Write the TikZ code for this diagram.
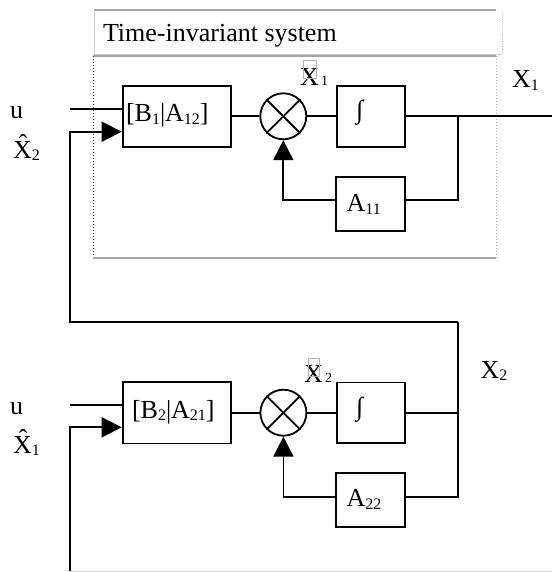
\documentclass[tikz,border=0pt]{standalone}
\usepackage{fontspec}
\setmainfont{Liberation Serif}
\usetikzlibrary{arrows.meta}
\newcommand{\mainsize}{\fontsize{26}{30}\selectfont}
\newcommand{\subtxt}[1]{\raisebox{-2.5pt}{\fontsize{16}{18}\selectfont #1}}
\newcommand{\dotsub}[1]{{\fontsize{14}{16}\selectfont\,#1}}
\begin{document}
\begin{tikzpicture}[x=1pt,y=-1pt, font=\mainsize,
  blk/.style={draw, line width=1.8pt, inner sep=0pt},
  wire/.style={line width=1.8pt},
  txt/.style={anchor=base west, inner sep=0pt, outer sep=0pt},
  tip/.style={-{Triangle[length=20pt,width=20pt]}}]
\useasboundingbox (0,0) rectangle (552,572);

% frames
\draw[gray!70, line width=1.2pt] (94,10) -- (496,10);
\draw[gray!40, line width=0.8pt] (94,10) -- (94,54) -- (502,54);
\draw[gray!40, line width=0.8pt, densely dotted] (502,12) -- (502,54);
\draw[gray!70, line width=1.2pt] (93,56) -- (496,56);
\draw[black!80, line width=1pt, dotted] (93,56) -- (93,258);
\draw[gray!60, line width=1pt, dotted] (496,56) -- (496,258);
\draw[gray!70, line width=1.2pt] (93,258) -- (496,258);
\node[txt] (tt) at (103,42) {Time-invariant system};

% top row
\node[blk, minimum width=108pt, minimum height=60.7pt] (B1) at (176.6,116.3) {};
\node[blk, circle, minimum size=46pt] (S1) at (283.3,116.3) {};
\node[blk, minimum width=68.6pt, minimum height=60.7pt] (I1) at (371,116.3) {};
\node[blk, minimum width=69.3pt, minimum height=53.4pt] (A11) at (370.7,204) {};
\draw[wire] (S1.north west) -- (S1.south east);
\draw[wire] (S1.north east) -- (S1.south west);

\coordinate (o1) at (552,116.3);
\coordinate (br1) at (458,116.3);
\coordinate (fb1) at (458,200);
\coordinate (u1) at (70,108.7);
\draw[wire] (B1.east) -- (S1.west);
\draw[wire] (S1.east) -- (I1.west);
\draw[wire] (I1.east) -- (o1);
\draw[wire] (br1) -- (fb1) -- (fb1 -| A11.east);
\draw[wire,tip] (fb1 -| A11.west) -| (S1.south);
\draw[wire] (u1) -- (u1 -| B1.west);

% bottom row
\node[blk, minimum width=108pt, minimum height=61.6pt] (B2) at (176.6,412.7) {};
\node[blk, circle, minimum size=46pt] (S2) at (283.4,412.7) {};
\node[blk, minimum width=68.6pt, minimum height=60.6pt] (I2) at (371,412.7) {};
\node[blk, minimum width=69pt, minimum height=53.4pt] (A22) at (370.5,500) {};
\draw[wire] (S2.north west) -- (S2.south east);
\draw[wire] (S2.north east) -- (S2.south west);

\coordinate (br2) at (458,412.7);
\coordinate (fb2) at (458,496.7);
\coordinate (u2) at (70,405.3);
\draw[wire] (B2.east) -- (S2.west);
\draw[wire] (S2.east) -- (I2.west);
\draw[wire] (I2.east) -- (br2);
\draw[wire,tip] (fb2 -| A22.west) -| (S2.south);
\draw[wire] (u2) -- (u2 -| B2.west);

% cross feedback X2 -> top input
\coordinate (x2a) at (458,321.7);
\coordinate (x2b) at (70,321.7);
\coordinate (x2c) at (70,131.7);
\draw[wire] (fb2 -| A22.east) -- (fb2) -- (x2a);
\draw[wire,tip] (x2a) -- (x2b) -- (x2c) -- (x2c -| B1.west);

% X1 -> bottom input
\coordinate (x1a) at (70,571);
\coordinate (x1b) at (70,427.3);
\coordinate (x1c) at (552,571);
\draw[gray!35, line width=1pt] (x1a) -- (x1c);
\draw[wire,tip] (x1a) -- (x1b) -- (x1b -| B2.west);

% labels
\node[txt] (tb1) at (126,121.7) {[B\subtxt{1}|A\subtxt{12}]};
\node[txt] (tb2) at (132,418.3) {[B\subtxt{2}|A\subtxt{21}]};
\node[txt] (ti1) at (356,119) {∫};
\node[txt] (ti2) at (356,415.5) {∫};
\node[txt] (ta11) at (346.7,211.7) {A\subtxt{11}};
\node[txt] (ta22) at (346.7,506.7) {A\subtxt{22}};
\node[txt] (lu1) at (10,118.3) {u};
\node[txt] (lu2) at (10,414) {u};
\node[txt] (lx2h) at (13,158) {\^{X}\subtxt{2}};
\node[txt] (lx1h) at (13,453) {\^{X}\subtxt{1}};
\node[txt] (lx1) at (512,88) {X\subtxt{1}};
\node[txt] (lx2) at (480.6,378.3) {X\subtxt{2}};
\node[txt] (ld1) at (300,86) {X\dotsub{1}};
\draw[gray!60, line width=0.8pt] (303,60) rectangle (316,78);
\node[txt] (ld2) at (304,382.7) {X\dotsub{2}};
\draw[gray!60, line width=0.8pt] (308,358) rectangle (319,376.7);
\end{tikzpicture}
\end{document}
